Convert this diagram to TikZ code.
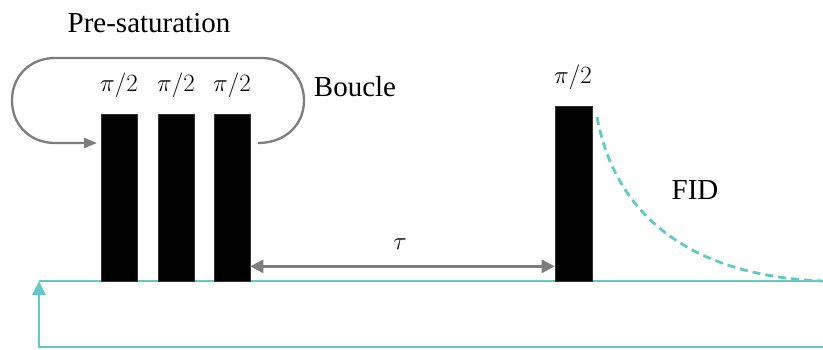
\documentclass[tikz,border=0pt]{standalone}
\usepackage{fontspec}
\setmainfont{Liberation Serif}
\usetikzlibrary{arrows.meta,calc}
\definecolor{teal1}{RGB}{100,200,200}
\definecolor{grayline}{RGB}{125,125,125}
\tikzset{
  pulse/.style={fill=black,draw=black!80,line width=0.6pt,inner sep=0pt,minimum width=36pt,minimum height=167pt},
  bigpulse/.style={pulse,minimum width=37pt,minimum height=175pt},
  lbl/.style={inner sep=0pt,font=\fontsize{29}{32}\selectfont},
  anglbl/.style={inner sep=0pt,font=\fontsize{25}{28}\selectfont},
  axis/.style={draw=teal1,line width=2.8pt},
  fid/.style={draw=teal1,line width=2.8pt,dash pattern=on 8pt off 5pt},
  loopline/.style={draw=grayline,line width=2.3pt},
  delay/.style={draw=grayline,line width=2.8pt,{Triangle[length=13pt,width=13pt]}-{Triangle[length=13pt,width=13pt]}}
}
\begin{document}
\begin{tikzpicture}[x=1pt,y=-1pt]
\useasboundingbox (0,0) rectangle (823,349);

% time axis and return loop
\coordinate (ax0) at (39,281);
\coordinate (ax1) at (823,281);
\coordinate (bt0) at (39,347);
\coordinate (bt1) at (823,347);
\draw[axis] (ax0) -- (ax1);
\draw[axis,-{Triangle[length=14pt,width=13pt]}] (bt1) -- (bt0) -- (ax0);

% saturation pulses and read pulse
\node[pulse] (p1) at (119,197.5) {};
\node[pulse] (p2) at (176,197.5) {};
\node[pulse] (p3) at (232,197.5) {};
\node[bigpulse] (p4) at (573.5,193.5) {};

% pulse angles
\node[anglbl] (a1) at (119,85) {$\pi/2$};
\node[anglbl] (a2) at (176,85) {$\pi/2$};
\node[anglbl] (a3) at (232,85) {$\pi/2$};
\node[anglbl] (a4) at (573,77) {$\pi/2$};

% labels
\node[lbl] (pre) at (149,23) {Pre-saturation};
\node[lbl] (boucle) at (355,87) {Boucle};
\node[lbl] (fidl) at (695,190) {FID};
\node[anglbl,font=\fontsize{28}{30}\selectfont] (tau) at (400,244) {$\tau$};

% repetition loop
\coordinate (ls) at (258,143);
\coordinate (le) at (97,143);
\draw[loopline,-{Triangle[length=13pt,width=10pt]}]
  (ls) .. controls (285,143) and (304,125) .. (304,100.5)
       .. controls (304,76) and (285,58) .. (262,58)
       -- (55,58)
       .. controls (30,58) and (12,76) .. (12,100.5)
       .. controls (12,125) and (30,143) .. (55,143)
       -- (le);

% recovery delay
\draw[delay] ($(p3.south east)+(0,-15)$) -- ($(p4.south west)+(0,-15)$);

% free induction decay
\coordinate (f0) at (597,117);
\draw[fid] (f0) .. controls (615,215) and (690,276) .. (ax1);
\end{tikzpicture}
\end{document}
